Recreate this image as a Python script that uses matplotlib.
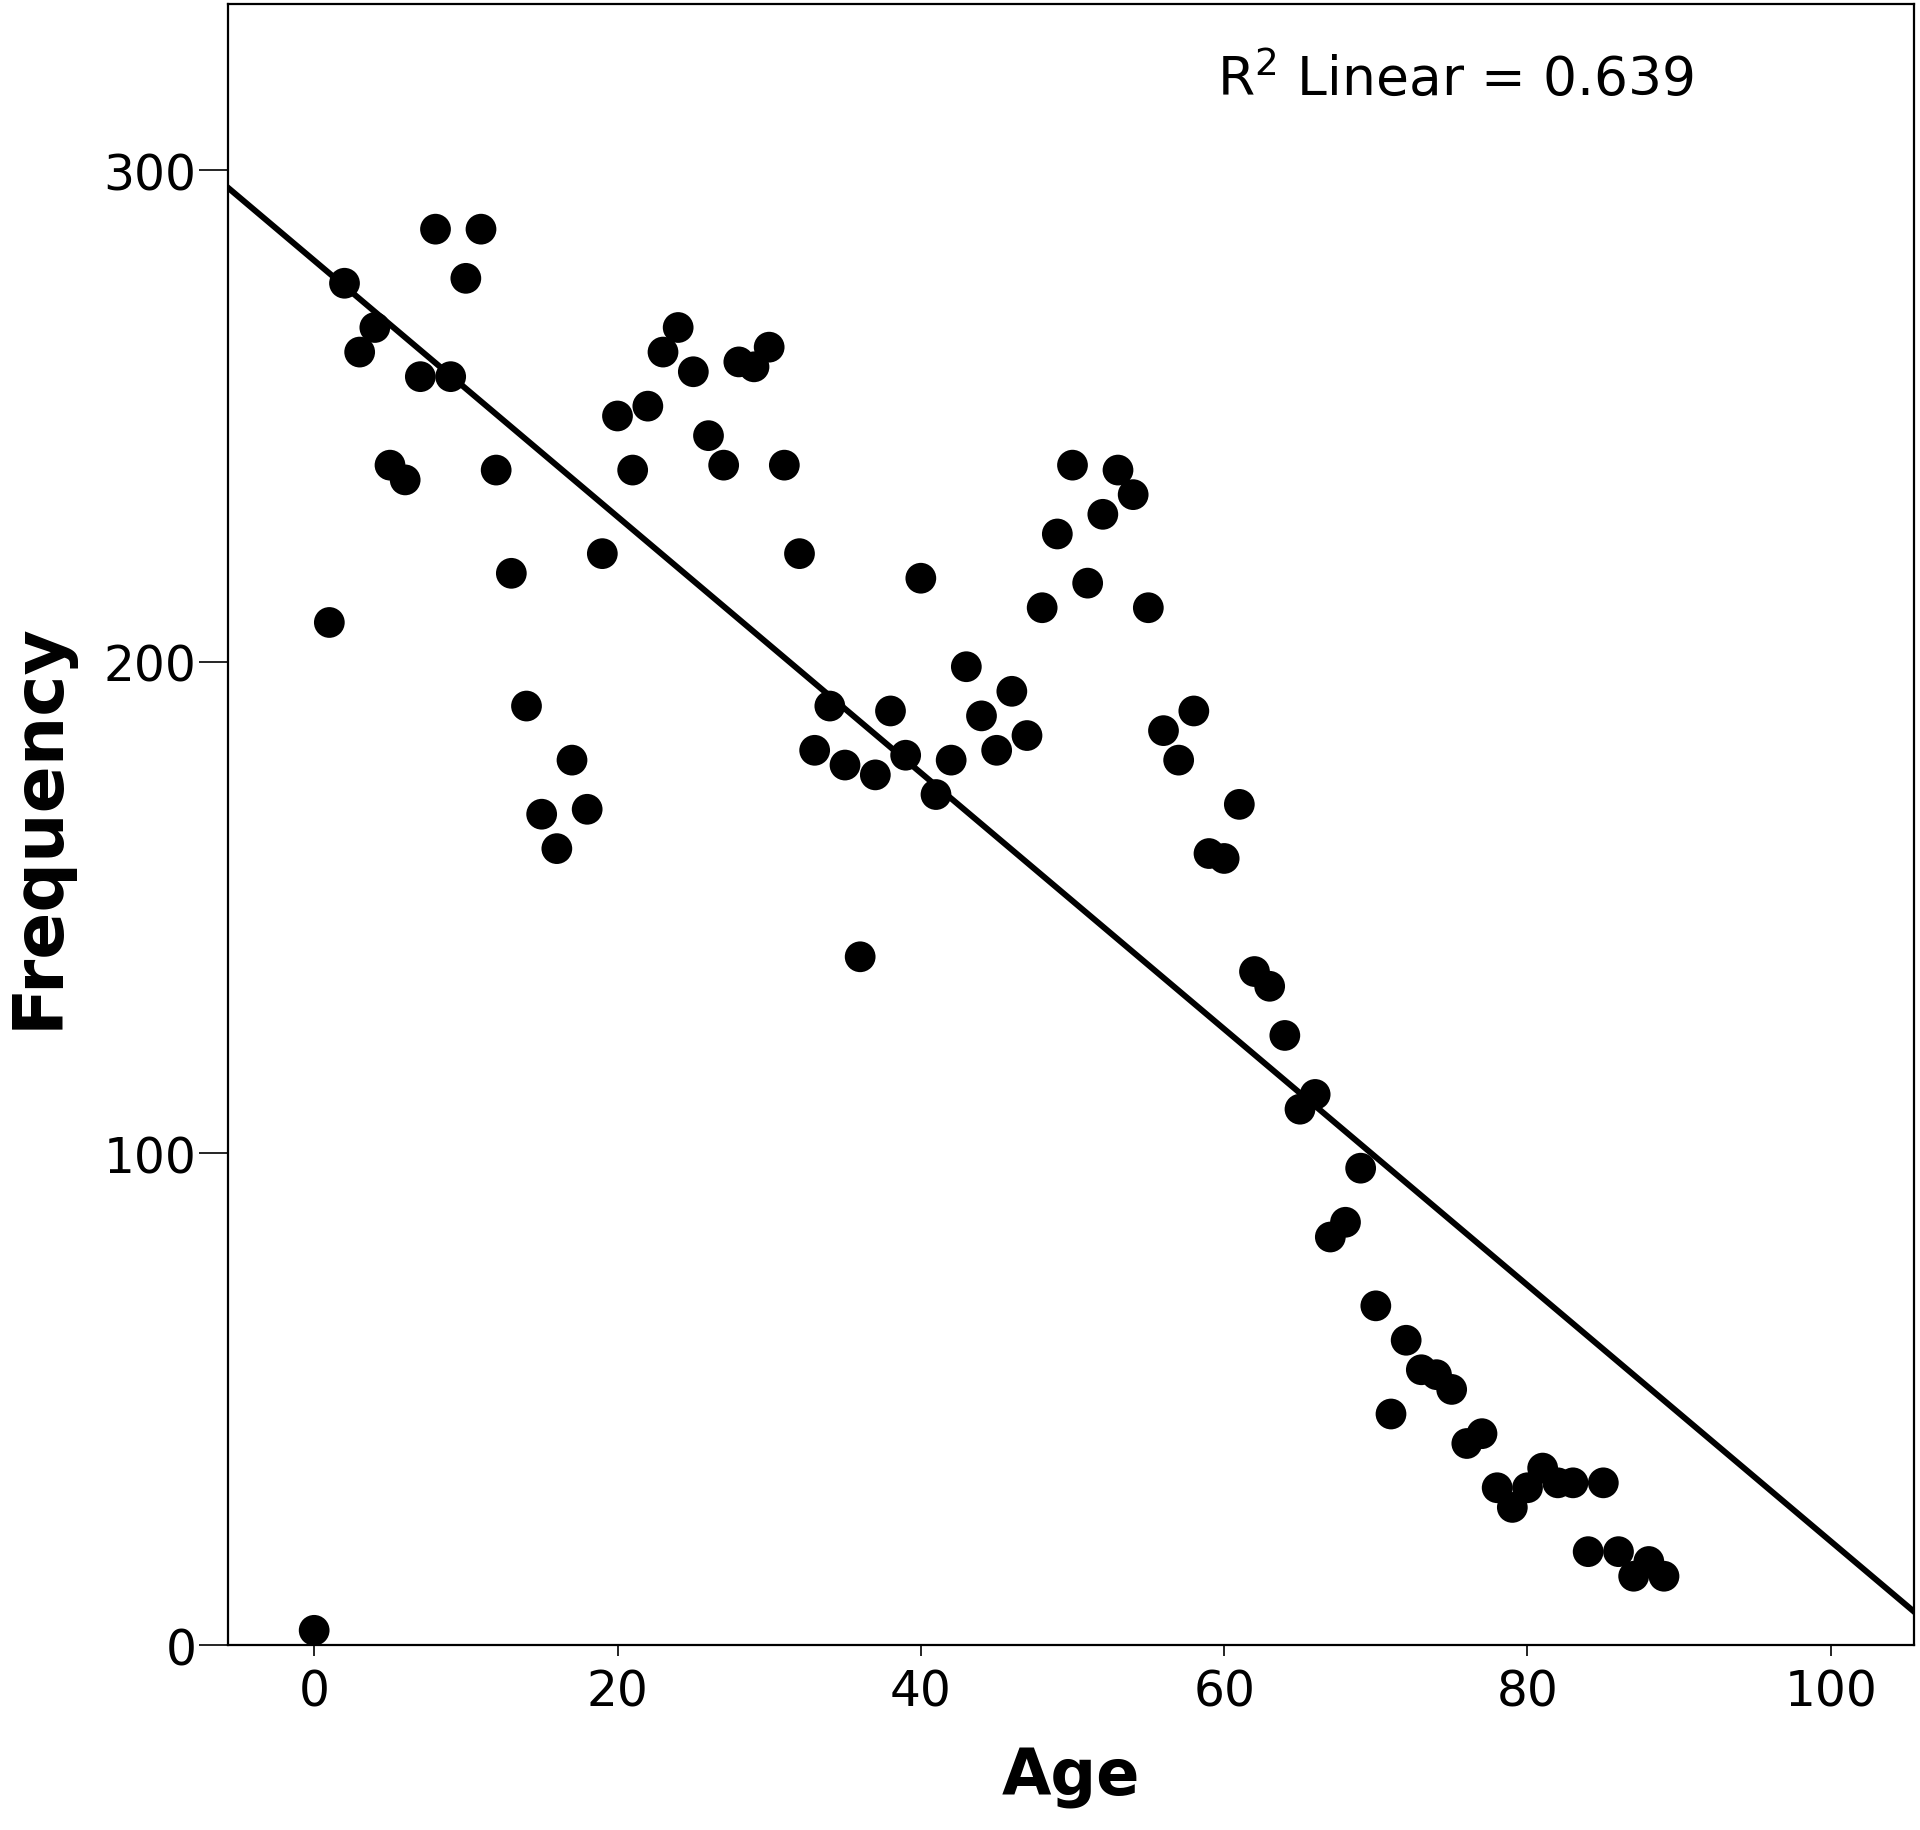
import numpy as np
import matplotlib
matplotlib.use('Agg')
import matplotlib.pyplot as plt

# values
age = list(range(0, 90))
freq = [3, 208, 277, 263, 268, 240, 237, 258, 288, 258,
        278, 288, 239, 218, 191, 169, 162, 180, 170, 222,
        250, 239, 252, 263, 268, 259, 246, 240, 261, 260,
        264, 240, 222, 182, 191, 179, 140, 177, 190, 181,
        217, 173, 180, 199, 189, 182, 194, 185, 211, 226,
        240, 216, 230, 239, 234, 211, 186, 180, 190, 161,
        160, 171, 137, 134, 124, 109, 112, 83, 86, 97,
        69, 47, 62, 56, 55, 52, 41, 43, 32, 28,
        32, 36, 33, 33, 19, 33, 19, 14, 17, 14]
xticks = [0, 20, 40, 60, 80, 100]
yticks = [0, 100, 200, 300]
r2_text = 'R$^{2}$ Linear = 0.639'

x = np.array(age, dtype=float)
y = np.array(freq, dtype=float)
slope, icpt = np.polyfit(x, y, 1)

plt.rcParams['font.family'] = ['DejaVu Sans']
plt.rcParams['mathtext.fontset'] = 'dejavusans'

fig = plt.figure(figsize=(19.2, 18.31), dpi=100)
ax = fig.add_axes([0.119, 0.101, 0.878, 0.896])

xmin, xmax = -5.65, 105.5
ax.set_xlim(xmin, xmax)
ax.set_ylim(0, 333.7)

xl = np.array([xmin, xmax])
ax.plot(xl, icpt + slope * xl, color='black', lw=4.3, zorder=2)
ax.scatter(x, y, s=490, color='black', edgecolors='none', zorder=3)

ax.set_xticks(xticks)
ax.set_yticks(yticks)
ax.tick_params(axis='both', labelsize=35, direction='out', width=1.2)
ax.tick_params(axis='x', length=8, pad=8)
ax.tick_params(axis='y', length=21, pad=2)
for s in ax.spines.values():
    s.set_linewidth(1.6)

ax.set_xlabel('Age', fontsize=46, fontweight='bold', labelpad=22)
ax.set_ylabel('Frequency', fontsize=50, fontweight='bold', labelpad=22)

ax.text(0.728, 0.955, r2_text, transform=ax.transAxes, fontsize=38.5,
        ha='center', va='center')

fig.savefig('out.png', dpi=100)
